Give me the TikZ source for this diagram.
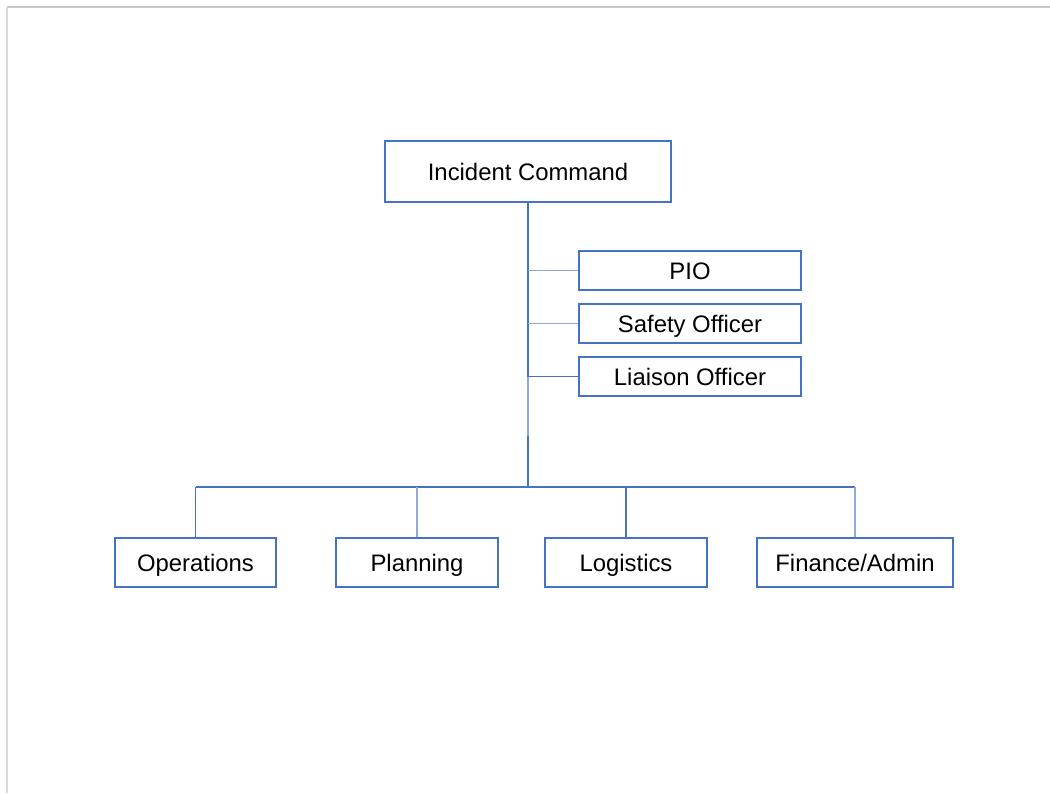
\documentclass[tikz,border=0pt]{standalone}
\usepackage{fontspec}
\setmainfont{Liberation Sans}
\begin{document}
\begin{tikzpicture}[x=0.75pt,y=-0.75pt,
  box/.style={draw=boxblue,line width=1.5pt,fill=white,inner sep=0pt,
    font=\fontsize{17.9}{21}\selectfont,text=black,
    text height=12.8pt,text depth=0pt},
  trunk/.style={draw=boxblue,line width=1.5pt},
  link/.style={draw=boxblue,line width=0.9pt},
  softlink/.style={draw=lineblue,line width=0.9pt}]
\definecolor{boxblue}{HTML}{4472C4}
\definecolor{lineblue}{HTML}{8FAADC}
\definecolor{frameA}{HTML}{C8C8C8}
\definecolor{frameB}{HTML}{DADADA}

% page extent and frame
\useasboundingbox (0,0) rectangle (1050,793);
\draw[frameA,line width=1.2pt] (7,7) -- (1050,7);
\draw[frameB,line width=1.2pt] (7,7) -- (7,793);

% command staff
\node[box,minimum width=214.5pt,minimum height=45.75pt] (ic) at (528,171.5) {Incident Command};
\node[box,minimum width=166.5pt,minimum height=29.25pt] (pio) at (690,270.5) {PIO};
\node[box,minimum width=166.5pt,minimum height=29.25pt] (safety) at (690,323.5) {Safety Officer};
\node[box,minimum width=166.5pt,minimum height=29.25pt] (liaison) at (690,376.5) {Liaison Officer};

% general staff sections
\node[box,minimum width=120.75pt,minimum height=36.75pt] (ops) at (195.5,562.5) {Operations};
\node[box,minimum width=121.5pt,minimum height=36.75pt] (plan) at (417,562.5) {Planning};
\node[box,minimum width=121.5pt,minimum height=36.75pt] (log) at (626,562.5) {Logistics};
\node[box,minimum width=147pt,minimum height=36.75pt] (fin) at (855,562.5) {Finance/Admin};

% trunk from command down to the section bus
\coordinate (t1) at (528,376.5);
\coordinate (t2) at (528,436);
\coordinate (bus) at (528,487);
\draw[trunk] (ic.south) -- (t1);
\draw[softlink,line width=1.5pt] (t1) -- (t2);
\draw[trunk] (t2) -- (bus);

% staff branches
\draw[softlink] (528,270.5) -- (pio.west);
\draw[softlink] (528,323.5) -- (safety.west);
\draw[link] (528,376.5) -- (liaison.west);

% section bus and drops
\coordinate (busL) at (195.5,487);
\coordinate (busR) at (855,487);
\draw[link] (busL) -- (busR);
\draw[link] (busL) -- (ops.north);
\draw[softlink] (417,487) -- (plan.north);
\draw[link] (626,487) -- (log.north);
\draw[softlink] (busR) -- (fin.north);
\end{tikzpicture}
\end{document}
